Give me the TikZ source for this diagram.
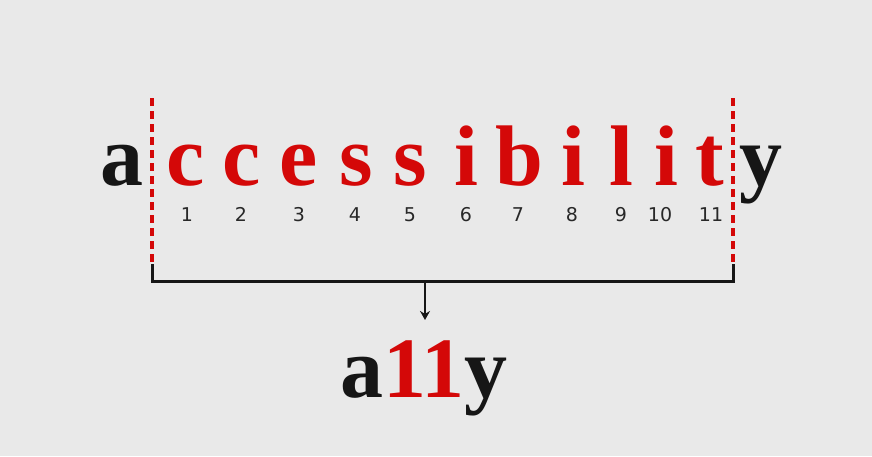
\documentclass[tikz,border=0pt]{standalone}
\usepackage{fontspec}
\setmainfont{Liberation Serif}
\newfontfamily\numfont{DejaVu Sans}
\definecolor{bg}{RGB}{233,233,233}
\definecolor{accred}{RGB}{212,8,8}
\definecolor{ink}{RGB}{22,22,22}
\definecolor{numink}{RGB}{40,40,40}
\usetikzlibrary{arrows.meta}
\tikzset{
  big/.style={anchor=base, inner sep=0pt, font=\fontsize{86}{90}\selectfont\bfseries},
  redl/.style={big, text=accred},
  blkl/.style={big, text=ink},
  num/.style={anchor=base, inner sep=0pt, text=numink, font=\numfont\fontsize{19}{22}\selectfont},
  cut/.style={accred, line width=3.4pt, dash pattern=on 8pt off 5pt},
  brack/.style={ink, line width=3pt},
}
\begin{document}
\begin{tikzpicture}[x=1pt,y=-1pt]
\fill[bg] (0,0) rectangle (872,456);
\useasboundingbox (0,0) rectangle (872,456);
% word
\node[blkl] (la) at (122,185) {a};
\foreach \ch/\xx in {c/186, c/242, e/299, s/356, s/410, i/466, b/519, i/573, l/621, i/666, t/710}{
  \node[redl] at (\xx,185) {\ch};
}
\node[blkl] (ly) at (761,185) {y};
% numbers
\foreach \xx/\n in {187/1, 241/2, 299/3, 355/4, 410/5, 466/6, 518/7, 572/8, 621/9, 660/10, 711/11}{
  \node[num] (n\n) at (\xx,221) {\n};
}
% cut lines
\coordinate (ct1) at (152,98);
\coordinate (cb1) at (152,264);
\coordinate (ct2) at (733,98);
\coordinate (cb2) at (733,264);
\draw[cut] (ct1) -- (cb1);
\draw[cut] (ct2) -- (cb2);
% bracket
\coordinate (bl) at (152,281);
\coordinate (br) at (733,281);
\coordinate (bm) at (425,281);
\draw[brack, line cap=butt] (cb1) -- (bl) -- (br) -- (cb2);
% result
\node[big, text=ink] (ally) at (424,397) {a\textcolor{accred}{11}y};
\coordinate (tip) at (425,320);
\draw[ink, line width=2.6pt, -{Stealth[length=9pt,width=10pt]}] (bm) -- (tip);
\end{tikzpicture}
\end{document}
